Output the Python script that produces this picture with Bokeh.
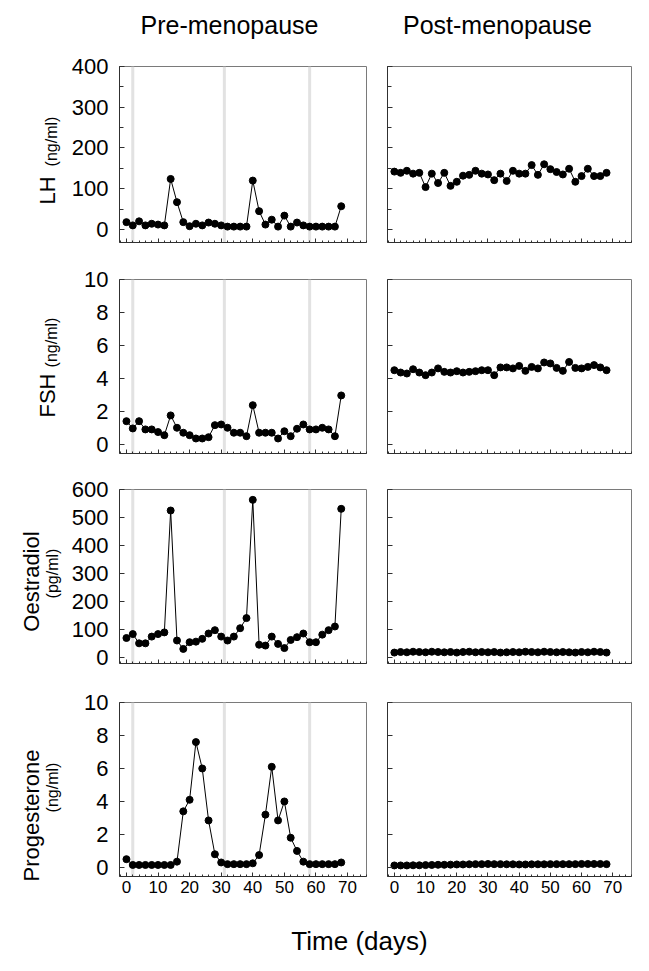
from math import pi
from bokeh.plotting import figure
from bokeh.layouts import column, row
from bokeh.models import Span, Label, SingleIntervalTicker, Range1d, CustomJSTickFormatter
from bokeh.embed import file_html
from bokeh.resources import INLINE

FONT = "Liberation Sans"

# ---------------- data ----------------
days = [0, 2, 4, 6, 8, 10, 12, 14, 16, 18, 20, 22, 24, 26, 28, 30, 32, 34,
        36, 38, 40, 42, 44, 46, 48, 50, 52, 54, 56, 58, 60, 62, 64, 66, 68]
menses_days = [2, 31, 58]

lh_pre = [18, 10, 20, 10, 14, 12, 10, 124, 67, 18, 8, 14, 10, 17, 14, 10, 7, 7,
          7, 7, 120, 45, 12, 24, 7, 34, 7, 17, 10, 7, 7, 7, 7, 7, 57]
lh_post = [142, 139, 144, 137, 139, 104, 137, 114, 139, 107, 117, 132, 134, 144, 137, 135, 121, 137,
           119, 144, 137, 137, 158, 134, 160, 148, 141, 135, 149, 117, 131, 149, 131, 131, 139]

fsh_pre = [1.41, 0.97, 1.41, 0.91, 0.91, 0.75, 0.56, 1.76, 1.01, 0.71, 0.56, 0.36, 0.36, 0.44, 1.17, 1.21, 1.01, 0.71,
           0.71, 0.5, 2.38, 0.71, 0.71, 0.71, 0.36, 0.8, 0.5, 0.95, 1.21, 0.91, 0.91, 1.01, 0.91, 0.5, 2.97]
fsh_post = [4.5, 4.36, 4.3, 4.56, 4.36, 4.2, 4.36, 4.61, 4.4, 4.36, 4.44, 4.36, 4.4, 4.44, 4.5, 4.5, 4.2, 4.67,
            4.67, 4.61, 4.76, 4.46, 4.7, 4.61, 4.97, 4.91, 4.64, 4.46, 5.0, 4.64, 4.61, 4.7, 4.81, 4.67, 4.5]

oes_pre = [70, 84, 51, 51, 75, 84, 90, 525, 61, 31, 55, 57, 67, 86, 98, 75, 61, 75,
           105, 141, 563, 46, 43, 75, 49, 34, 63, 73, 86, 55, 55, 82, 98, 111, 531]
oes_post = [18, 20, 19, 21, 20, 19, 21, 20, 19, 20, 18, 20, 21, 19, 20, 19, 20, 18,
            19, 20, 19, 21, 20, 19, 21, 20, 19, 20, 19, 18, 20, 19, 21, 20, 18]

pro_pre = [0.5, 0.15, 0.15, 0.15, 0.15, 0.15, 0.15, 0.15, 0.35, 3.4, 4.1, 7.6, 6.0, 2.85, 0.8, 0.3, 0.2, 0.2,
           0.2, 0.2, 0.25, 0.75, 3.2, 6.1, 2.85, 4.0, 1.8, 1.0, 0.35, 0.2, 0.2, 0.2, 0.2, 0.2, 0.3]
pro_post = [0.12, 0.12, 0.12, 0.13, 0.13, 0.14, 0.15, 0.16, 0.16, 0.17, 0.18, 0.18, 0.19, 0.2, 0.2, 0.21, 0.2, 0.2,
            0.19, 0.19, 0.18, 0.18, 0.19, 0.19, 0.19, 0.2, 0.2, 0.2, 0.2, 0.2, 0.21, 0.21, 0.21, 0.21, 0.2]

titles = ["Pre-menopause", "Post-menopause"]
x_label = "Time (days)"

# ---------------- layout / styling ----------------
X0, X1 = -2.2, 76.0
YL_W = 66                      # width of the side strip holding the rotated y labels
TITLE_H = 44
XLABEL_H = 57
LEFT_W, LEFT_BL, LEFT_BR = 305, 53, 5
RIGHT_W, RIGHT_BL, RIGHT_BR = 270, 16, 10
MAIN_W = LEFT_W + RIGHT_W
AX = "#303030"

rows_spec = [
    dict(name="LH", unit="(ng/ml)", pre=lh_pre, post=lh_post, yr=(-32, 400), iv=100, minor=2,
         top=22, frame=176, bot=18, big=(47, 190), small=(51, 141)),
    dict(name="FSH", unit="(ng/ml)", pre=fsh_pre, post=fsh_post, yr=(-0.55, 10), iv=2, minor=0,
         top=19, frame=174, bot=18, big=(47, 395), small=(51, 342)),
    dict(name="Oestradiol", unit="(pg/ml)", pre=oes_pre, post=oes_post, yr=(-21, 600), iv=100, minor=0,
         top=18, frame=174, bot=19, big=(31, 581), small=(52, 573)),
    dict(name="Progesterone", unit="(ng/ml)", pre=pro_pre, post=pro_post, yr=(-0.55, 10), iv=2, minor=0,
         top=20, frame=174, bot=30, big=(31, 815), small=(52, 787)),
]
TOTAL_H = TITLE_H + sum(s["top"] + s["frame"] + s["bot"] for s in rows_spec) + XLABEL_H


def blank(width, height):
    f = figure(width=width, height=height, output_backend="svg", toolbar_location=None,
               x_axis_type=None, y_axis_type=None, min_border=0,
               x_range=Range1d(0, 1), y_range=Range1d(0, 1))
    f.outline_line_color = None
    f.xgrid.visible = False
    f.ygrid.visible = False
    return f


def make_panel(spec, vals, left, last):
    if left:
        w, bl, br = LEFT_W, LEFT_BL, LEFT_BR
    else:
        w, bl, br = RIGHT_W, RIGHT_BL, RIGHT_BR
    h = spec["top"] + spec["frame"] + spec["bot"]
    p = figure(width=w, height=h, output_backend="svg", toolbar_location=None,
               min_border_left=bl, min_border_right=br,
               min_border_top=spec["top"], min_border_bottom=spec["bot"],
               x_range=Range1d(X0, X1), y_range=Range1d(*spec["yr"]),
               background_fill_color="white", border_fill_color="white")
    p.xgrid.visible = False
    p.ygrid.visible = False
    p.outline_line_color = "#7a7a7a"
    p.outline_line_width = 1

    xa = p.xaxis[0]
    xa.ticker = SingleIntervalTicker(interval=10, num_minor_ticks=5)
    xa.major_tick_in = 4
    xa.major_tick_out = 0
    xa.minor_tick_in = 2
    xa.minor_tick_out = 0
    xa.axis_line_color = AX
    xa.major_tick_line_color = AX
    xa.minor_tick_line_color = AX
    if last:
        xa.major_label_text_font = FONT
        xa.major_label_text_font_size = "17px"
        xa.major_label_text_color = "black"
        xa.major_label_standoff = 4
    else:
        xa.formatter = CustomJSTickFormatter(code="return ''")
        xa.major_label_standoff = 0

    ya = p.yaxis[0]
    ya.ticker = SingleIntervalTicker(interval=spec["iv"], num_minor_ticks=spec["minor"])
    ya.major_tick_in = 5
    ya.major_tick_out = 0
    ya.minor_tick_in = 4
    ya.minor_tick_out = 0
    ya.axis_line_color = AX
    ya.major_tick_line_color = AX
    ya.minor_tick_line_color = AX
    if left:
        ya.major_label_text_font = FONT
        ya.major_label_text_font_size = "22px"
        ya.major_label_text_color = "black"
        ya.major_label_standoff = 11
    else:
        ya.formatter = CustomJSTickFormatter(code="return ''")
        ya.major_label_standoff = 0

    if left:
        for d in menses_days:
            p.add_layout(Span(location=d, dimension="height", line_color="#e2e2e2",
                              line_width=3, level="underlay"))

    p.line(days, vals, line_color="black", line_width=1)
    p.scatter(days, vals, size=7, fill_color="black", line_color="black")
    return p


# title strip
tf = blank(MAIN_W, TITLE_H)
for txt, cx in zip(titles, [229, 497]):
    tf.add_layout(Label(x=cx - YL_W, y=TITLE_H - 24, x_units="screen", y_units="screen", text=txt,
                        text_align="center", text_baseline="middle",
                        text_font=FONT, text_font_size="25px", text_color="black"))

# rotated y-label strip (page coordinates -> screen coordinates of this strip)
yl = blank(YL_W, TOTAL_H)
for spec in rows_spec:
    bx, by = spec["big"]
    sx, sy = spec["small"]
    yl.add_layout(Label(x=bx, y=TOTAL_H - by, x_units="screen", y_units="screen", text=spec["name"],
                        angle=pi / 2, text_align="center", text_baseline="middle",
                        text_font=FONT, text_font_size="22px", text_color="black"))
    yl.add_layout(Label(x=sx, y=TOTAL_H - sy, x_units="screen", y_units="screen", text=spec["unit"],
                        angle=pi / 2, text_align="center", text_baseline="middle",
                        text_font=FONT, text_font_size="16px", text_color="black"))

main = [tf]
n = len(rows_spec)
for i, spec in enumerate(rows_spec):
    last = i == n - 1
    main.append(row(make_panel(spec, spec["pre"], True, last),
                    make_panel(spec, spec["post"], False, last)))

xl = blank(MAIN_W, XLABEL_H)
xl.add_layout(Label(x=359 - YL_W, y=23, x_units="screen", y_units="screen", text=x_label,
                    text_align="center", text_baseline="middle",
                    text_font=FONT, text_font_size="26px", text_color="black"))
main.append(xl)

layout = row(yl, column(*main))
open("out.html", "w").write(file_html(layout, INLINE))
